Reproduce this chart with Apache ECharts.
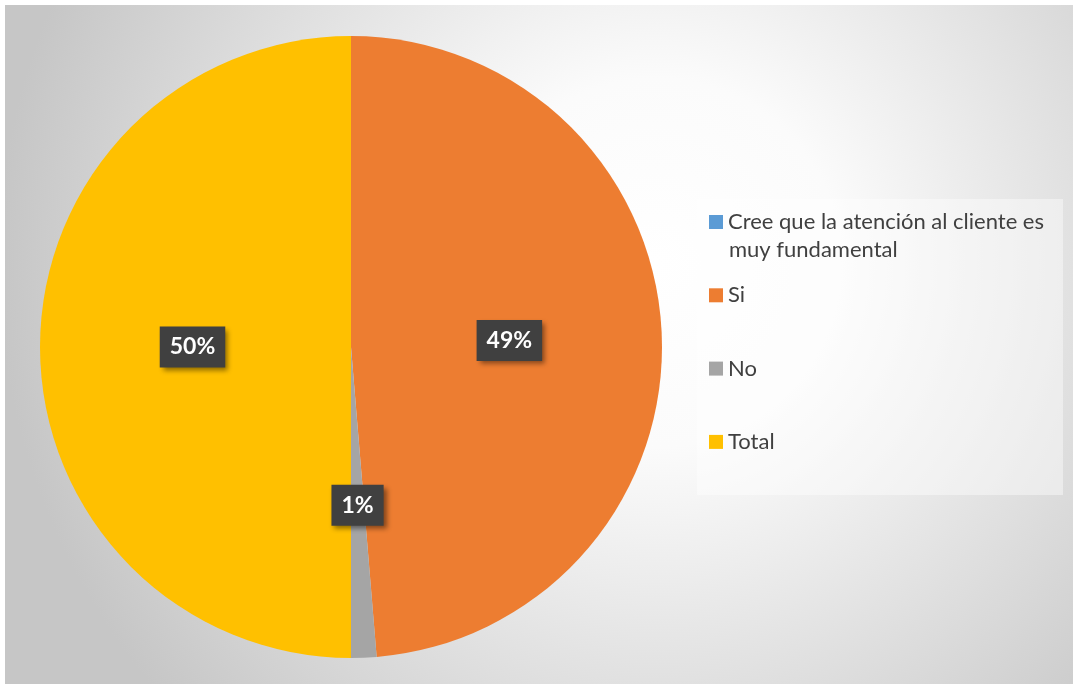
<!DOCTYPE html>
<html>
<head>
<meta charset="utf-8">
<title>Atención al cliente</title>
<script src="https://cdn.jsdelivr.net/npm/echarts@6/dist/echarts.min.js"></script>
<style>
  html, body { margin: 0; padding: 0; background: #ffffff; }
  #chart { position: absolute; left: 5px; top: 5px; width: 1068px; height: 679px; }
</style>
</head>
<body>
<div id="chart"></div>
<script>
// Categories and answer counts
const categories = ['Cree que la atención al cliente es muy fundamental', 'Si', 'No', 'Total'];
const values = [0, 37, 1, 38];
const colors = ['#5B9BD5', '#ED7D31', '#A5A5A5', '#FFC000'];

// Legend shows the first line of the long category; the wrapped remainder is a second text line
const legendFirstLine = 'Cree que la atención al cliente es';
const legendSecondLine = 'muy fundamental';

const FONT = 'Lato, "Open Sans", sans-serif';

const chart = echarts.init(document.getElementById('chart'), null, { renderer: 'canvas' });

const seriesData = categories.map((name, i) => ({
  name: name,
  value: values[i],
  itemStyle: { color: colors[i] },
  label: { show: values[i] > 0 }
}));

chart.setOption({
  animation: false,
  backgroundColor: {
    type: 'radial', x: 0.61, y: 0.38, r: 0.97,
    colorStops: [
      { offset: 0, color: '#ffffff' },
      { offset: 0.28, color: '#fbfbfb' },
      { offset: 1, color: '#c6c6c6' }
    ]
  },
  legend: {
    orient: 'vertical',
    left: 692,
    top: 194,
    padding: [10, 19, 40, 12],
    backgroundColor: 'rgba(255,255,255,0.42)',
    itemWidth: 14,
    itemHeight: 14,
    itemGap: 47.3,
    icon: 'rect',
    selectedMode: false,
    data: categories,
    formatter: name => (name === categories[0] ? legendFirstLine : name),
    textStyle: { fontFamily: FONT, fontSize: 22, lineHeight: 26, color: '#404040' }
  },
  graphic: [{
    type: 'text',
    left: 724,
    top: 234,
    silent: true,
    z: 10,
    style: {
      text: legendSecondLine,
      fontFamily: FONT,
      fontSize: 22,
      fill: '#404040',
      opacity: 1
    }
  }],
  series: [{
    type: 'pie',
    center: [346, 342],
    radius: [0, 311],
    startAngle: 90,
    clockwise: true,
    avoidLabelOverlap: false,
    emphasis: { disabled: true },
    itemStyle: { borderWidth: 0 },
    labelLine: { show: false },
    label: {
      position: 'inside',
      formatter: p => Math.round(p.percent) + '%',
      color: '#ffffff',
      fontFamily: FONT,
      fontWeight: 'bold',
      fontSize: 23,
      lineHeight: 23,
      backgroundColor: '#404040',
      padding: [9, 10, 9, 10],
      shadowColor: 'rgba(0,0,0,0.45)',
      shadowBlur: 5,
      shadowOffsetX: 3,
      shadowOffsetY: 3
    },
    data: seriesData
  }]
});
</script>
</body>
</html>
